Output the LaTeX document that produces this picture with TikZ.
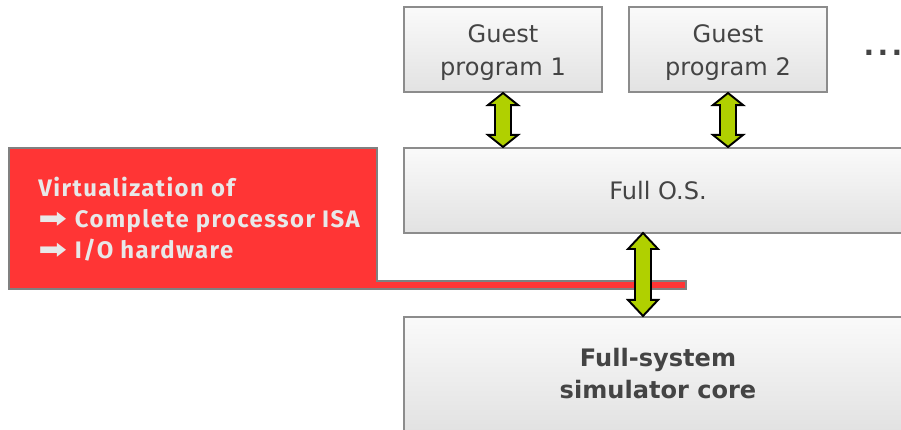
\documentclass[tikz,border=0pt]{standalone}
\usepackage{fontspec}
\setmainfont{DejaVu Sans}
\newfontfamily\virtfont[LetterSpace=6]{Fira Sans}
\newfontfamily\symfont{DejaVu Sans}
\usetikzlibrary{calc}

\definecolor{panelred}{HTML}{FF3535}
\definecolor{panelgray}{HTML}{808080}
\definecolor{boxgray}{HTML}{8C8C8C}
\definecolor{boxtop}{HTML}{FAFAFA}
\definecolor{boxbottom}{HTML}{E2E2E2}
\definecolor{boxtext}{HTML}{444444}
\definecolor{limegreen}{HTML}{B0D000}
\definecolor{virttext}{HTML}{E8E8E8}

% two-headed fat arrow from #1 (top tip) to #2 (bottom tip), head length #3
\newcommand{\biarrow}[3]{%
  \draw[fatarrow] (#1) -- ++(15,#3) -- ++(-7,0) -- ($(#2)+(8,-#3)$) -- ++(7,0) -- (#2)
    -- ++(-15,-#3) -- ++(7,0) -- ($(#1)+(-8,#3)$) -- ++(-7,0) -- cycle;}
\newcommand{\virtarrow}{\scalebox{1.3}[1]{\symfont\fontsize{15}{17.6}\selectfont ➡}\hspace{4.5pt}}

\begin{document}
\begin{tikzpicture}[
    x=0.02cm, y=-0.02cm,
    box/.style={draw=boxgray, line width=1.2pt, top color=boxtop, bottom color=boxbottom,
      text=boxtext, align=center, inner sep=0pt, font=\fontsize{13.7}{18.7}\selectfont},
    fatarrow/.style={draw=black, line width=1.1pt, fill=limegreen, line join=miter},
    redpanel/.style={draw=panelgray, line width=1.5pt, fill=panelred},
    virtlabel/.style={text=virttext, align=left, inner sep=0pt,
      font=\virtfont\bfseries\fontsize{13.6}{17.6}\selectfont}
  ]
  \useasboundingbox (0,0) rectangle (901,429);

  % guest side
  \node[box, minimum width=3.96cm, minimum height=1.7cm] (guest1) at (503,49.5)
    {\rule{0pt}{13.4pt}Guest\\program 1};
  \node[box, minimum width=3.96cm, minimum height=1.7cm] (guest2) at (728,49.5)
    {\rule{0pt}{13.4pt}Guest\\program 2};
  \node[text=boxtext, font=\bfseries\fontsize{16}{18}\selectfont] (more) at (883,53)
    {.\kern1.9pt.\kern1.9pt.};

  \node[box, minimum width=10.16cm, minimum height=1.7cm] (os) at (658,190.5) {Full O.S.};
  \node[box, minimum width=10.16cm, minimum height=2.28cm, font=\bfseries\fontsize{13.7}{18.2}\selectfont]
    (core) at (658,374) {Full-system\\simulator core};

  % virtualization panel
  \draw[redpanel] (9,148) -- (377,148) -- (377,281) -- (686,281) -- (686,289) -- (9,289) -- cycle;
  \node[virtlabel, anchor=west] (virt) at (38,219)
    {Virtualization of\\\virtarrow Complete processor ISA\\\virtarrow I/O hardware};

  % arrows
  \coordinate (g1port) at (guest1.south);
  \coordinate (g2port) at (guest2.south);
  \coordinate (osport) at (643,233);
  \biarrow{g1port}{g1port |- os.north}{12}
  \biarrow{g2port}{g2port |- os.north}{12}
  \biarrow{osport}{osport |- core.north}{16}
\end{tikzpicture}
\end{document}
